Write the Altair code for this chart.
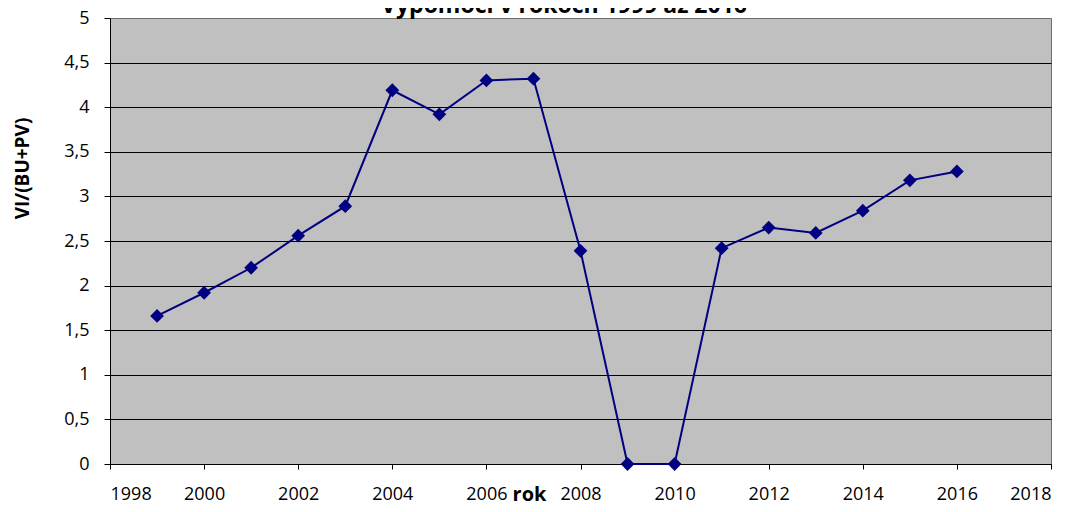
import altair as alt
import pandas as pd

years = [1999, 2000, 2001, 2002, 2003, 2004, 2005, 2006, 2007, 2008,
         2009, 2010, 2011, 2012, 2013, 2014, 2015, 2016]
values = [1.66, 1.92, 2.20, 2.56, 2.89, 4.19, 3.92, 4.30, 4.32, 2.39,
          0.0, 0.0, 2.42, 2.65, 2.59, 2.84, 3.18, 3.28]
x_ticks = [1998, 2000, 2002, 2004, 2006, 2008, 2010, 2012, 2014, 2016, 2018]
y_ticks = [0, 0.5, 1, 1.5, 2, 2.5, 3, 3.5, 4, 4.5, 5]
title_text = "Výpomoci v rokoch 1999 až 2016"
x_title = "rok"
y_title = "VI/(BU+PV)"

df = pd.DataFrame({"rok": years, "v": values})
title_df = pd.DataFrame({"t": [title_text]})

FONT = "Open Sans"

base = alt.Chart(df).encode(
    x=alt.X(
        "rok:Q",
        scale=alt.Scale(domain=[1998, 2018], nice=False, zero=False),
        axis=alt.Axis(
            values=x_ticks, format="d", title=x_title, grid=False,
            domainColor="black", tickColor="black", tickSize=5,
            labelFont=FONT, labelFontSize=18, labelColor="black",
            labelBaseline="alphabetic", labelPadding=30,
            titleFont=FONT, titleFontSize=20, titleFontWeight="bold",
            titleColor="black", titleX=419, titleY=36,
            titleBaseline="alphabetic", titleAlign="center",
        ),
    ),
    y=alt.Y(
        "v:Q",
        scale=alt.Scale(domain=[0, 5], nice=False),
        axis=alt.Axis(
            values=y_ticks,
            labelExpr="replace(format(datum.value, '~g'), '.', ',')",
            title=y_title, grid=True,
            gridColor={"condition": {"test": "datum.value === 5", "value": "#707070"},
                       "value": "#000000"},
            gridWidth=1,
            domainColor="black", tickColor="black", tickSize=6,
            labelFont=FONT, labelFontSize=18, labelColor="black",
            labelPadding=15,
            titleFont=FONT, titleFontSize=19, titleFontWeight="bold",
            titleColor="black", titleAngle=270, titleX=-88, titleY=150,
            titleBaseline="middle", titleAlign="center",
        ),
    ),
)

line = base.mark_line(color="#000080", strokeWidth=2)
pts = base.mark_point(shape="diamond", filled=True, size=190,
                      color="#000080", opacity=1)

title_mark = alt.Chart(title_df).mark_text(
    font=FONT, fontSize=23, fontWeight="bold", color="black",
    align="center", baseline="alphabetic",
).encode(text="t:N", x=alt.value(454), y=alt.value(-5))

chart = (line + pts + title_mark).properties(
    width=941,
    height=446,
    autosize=alt.AutoSizeParams(type="none"),
    padding={"left": 102, "top": 10, "right": 16, "bottom": 40},
).configure(
    background="white",
    view=alt.ViewConfig(fill="#C0C0C0", stroke="#707070", strokeWidth=1),
)

chart.save("out.html", embed_options={"renderer": "svg", "actions": False})
